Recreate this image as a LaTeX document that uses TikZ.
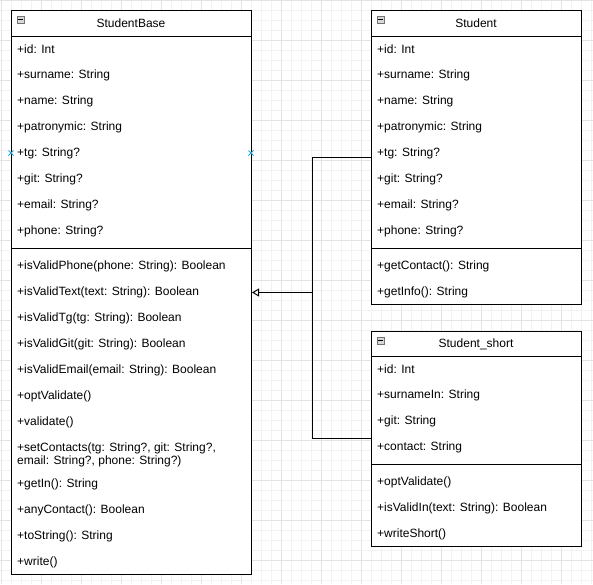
\documentclass[tikz,border=0pt]{standalone}
\usepackage{fontspec}
\setmainfont{Liberation Sans}
\usetikzlibrary{arrows.meta}
\definecolor{gridminor}{HTML}{F2F2F2}
\definecolor{gridmajor}{HTML}{E3E3E3}
\definecolor{markblue}{HTML}{29A3E0}
\definecolor{iconfill}{HTML}{D8D8D8}
\tikzset{
  classbox/.style={draw=black, line width=1pt, fill=white, anchor=north west, inner sep=0pt},
  row/.style={anchor=west, inner sep=0pt, font=\fontsize{12}{14}\selectfont},
  title/.style={anchor=center, inner sep=0pt, font=\fontsize{12}{14}\selectfont},
  sepline/.style={draw=black, line width=1pt},
  conn/.style={draw=black, line width=1pt},
  inherit/.style={conn, -{Triangle[open, length=7pt, width=8pt, fill=white]}},
  collapse/.style={draw=black!55, fill=iconfill, line width=0.6pt, minimum size=7pt, inner sep=0pt},
}
\newcommand{\markX}[1]{\draw[markblue, line width=0.8pt] ($#1+(-2.5,-2.5)$) -- ($#1+(2.5,2.5)$) ($#1+(-2.5,2.5)$) -- ($#1+(2.5,-2.5)$);}
\usetikzlibrary{calc}
\begin{document}
\begin{tikzpicture}[x=1pt,y=-1pt]
\useasboundingbox (0,0) rectangle (593,584);
\fill[white] (0,0) rectangle (593,584);
% grid
\foreach \gx in {1.7,11.7,...,593} {\draw[gridminor, line width=0.6pt] (\gx,0) -- (\gx,584);}
\foreach \gy in {0,10,...,584} {\draw[gridminor, line width=0.6pt] (0,\gy) -- (593,\gy);}
\foreach \gx in {1.7,41.7,...,593} {\draw[gridmajor, line width=0.8pt] (\gx,0) -- (\gx,584);}
\foreach \gy in {0,40,...,584} {\draw[gridmajor, line width=0.8pt] (0,\gy) -- (593,\gy);}

% ---------------- StudentBase ----------------
\node[classbox, minimum width=240pt, minimum height=564pt] (sb) at (11,10) {};
\draw[sepline] (11,36) -- (251,36);
\draw[sepline] (11,248) -- (251,248);
\node[collapse] (sbicon) at (20.5,19.5) {};
\draw[black, line width=0.8pt] (18.3,19.5) -- (22.7,19.5);
\node[title] (sbtitle) at (131,23) {StudentBase};
\node[row] (sb1) at (17,49) {+id: Int};
\node[row] (sb2) at (17,75) {+surname: String};
\node[row] (sb3) at (17,101) {+name: String};
\node[row] (sb4) at (17,127) {+patronymic: String};
\node[row] (sb5) at (17,153) {+tg: String?};
\node[row] (sb6) at (17,179) {+git: String?};
\node[row] (sb7) at (17,205) {+email: String?};
\node[row] (sb8) at (17,231) {+phone: String?};
\node[row] (sbm1) at (17,266) {+isValidPhone(phone: String): Boolean};
\node[row] (sbm2) at (17,292) {+isValidText(text: String): Boolean};
\node[row] (sbm3) at (17,318) {+isValidTg(tg: String): Boolean};
\node[row] (sbm4) at (17,344) {+isValidGit(git: String): Boolean};
\node[row] (sbm5) at (17,370) {+isValidEmail(email: String): Boolean};
\node[row] (sbm6) at (17,396) {+optValidate()};
\node[row] (sbm7) at (17,422) {+validate()};
\node[row, align=left, font=\fontsize{12}{13.5}\selectfont] (sbm8) at (17,455) {+setContacts(tg: String?, git: String?,\\email: String?, phone: String?)};
\node[row] (sbm9) at (17,484) {+getIn(): String};
\node[row] (sbm10) at (17,510) {+anyContact(): Boolean};
\node[row] (sbm11) at (17,536) {+toString(): String};
\node[row] (sbm12) at (17,562) {+write()};
\markX{(11,153)}
\markX{(251,153)}

% ---------------- Student ----------------
\node[classbox, minimum width=210pt, minimum height=294pt] (st) at (371,10) {};
\draw[sepline] (371,36) -- (581,36);
\draw[sepline] (371,248) -- (581,248);
\node[collapse] (sticon) at (380.5,19.5) {};
\draw[black, line width=0.8pt] (378.3,19.5) -- (382.7,19.5);
\node[title] (sttitle) at (476,23) {Student};
\node[row] (st1) at (377,49) {+id: Int};
\node[row] (st2) at (377,75) {+surname: String};
\node[row] (st3) at (377,101) {+name: String};
\node[row] (st4) at (377,127) {+patronymic: String};
\node[row] (st5) at (377,153) {+tg: String?};
\node[row] (st6) at (377,179) {+git: String?};
\node[row] (st7) at (377,205) {+email: String?};
\node[row] (st8) at (377,231) {+phone: String?};
\node[row] (stm1) at (377,266) {+getContact(): String};
\node[row] (stm2) at (377,292) {+getInfo(): String};

% ---------------- Student_short ----------------
\node[classbox, minimum width=210pt, minimum height=215pt] (ss) at (371,331) {};
\draw[sepline] (371,356) -- (581,356);
\draw[sepline] (371,464) -- (581,464);
\node[collapse] (ssicon) at (380.5,340.5) {};
\draw[black, line width=0.8pt] (378.3,340.5) -- (382.7,340.5);
\node[title] (sstitle) at (476,344) {Student\_short};
\node[row] (ss1) at (377,369) {+id: Int};
\node[row] (ss2) at (377,395) {+surnameIn: String};
\node[row] (ss3) at (377,421) {+git: String};
\node[row] (ss4) at (377,447) {+contact: String};
\node[row] (ssm1) at (377,482) {+optValidate()};
\node[row] (ssm2) at (377,508) {+isValidIn(text: String): Boolean};
\node[row] (ssm3) at (377,534) {+writeShort()};

% ---------------- connectors ----------------
\coordinate (jtop) at (312,157);
\coordinate (jbot) at (312,438);
\coordinate (jarr) at (312,292.5);
\draw[conn] (st.west |- jtop) -- (jtop) -- (jbot) -- (ss.west |- jbot);
\draw[inherit] (jarr) -- (sb.east |- jarr);
\end{tikzpicture}
\end{document}
